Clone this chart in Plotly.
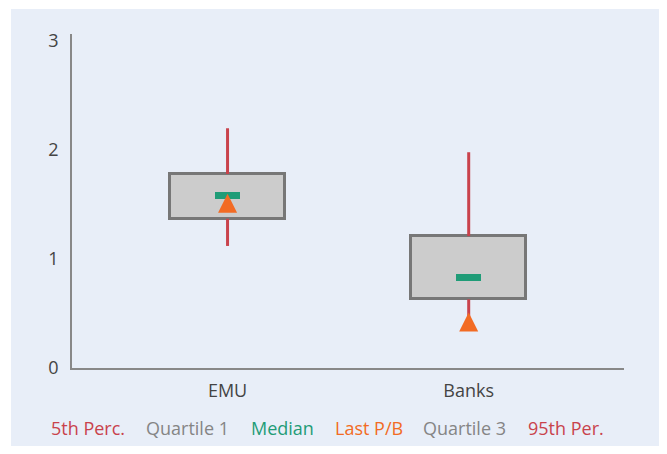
import plotly.graph_objects as go

categories = ["EMU", "Banks"]
p5 = [1.12, 0.46]
q1 = [1.37, 0.63]
median = [1.58, 0.83]
last_pb = [1.60, 0.51]
q3 = [1.78, 1.21]
p95 = [2.20, 1.98]
y_ticks = [0, 1, 2, 3]

legend_names = ["5th Perc.", "Quartile 1", "Median", "Last P/B", "Quartile 3", "95th Per."]
legend_colors = ["#c9424c", "#858585", "#1f9c77", "#f26b24", "#858585", "#c9424c"]
legend_x_px = [41, 136, 241, 325, 413, 518]

RED = "#c9424c"
GREEN = "#1f9c77"
ORANGE = "#f26b24"
PANEL = "#e8eef8"
FONT = "Open Sans"

xs = list(range(len(categories)))
fig = go.Figure()

# whiskers 5th..Q1 and Q3..95th
for i in xs:
    fig.add_trace(go.Scatter(x=[i, i, None, i, i],
                             y=[p5[i], q1[i], None, q3[i], p95[i]], mode="lines",
                             line=dict(color=RED, width=3), showlegend=False,
                             hoverinfo="skip"))
# boxes q1..q3
fig.add_trace(go.Bar(x=xs, y=[q3[i] - q1[i] for i in xs], base=q1, width=0.475,
                     marker=dict(color="#cccccc", line=dict(color="#777777", width=3)),
                     showlegend=False))
# median bars
mh = 0.064
fig.add_trace(go.Bar(x=xs, y=[mh] * len(xs), base=[m - mh / 2 for m in median], width=0.105,
                     marker=dict(color=GREEN, line=dict(width=0)), showlegend=False))
# last P/B triangles (apex at value)
fig.add_trace(go.Scatter(x=xs, y=last_pb, mode="markers",
                         marker=dict(symbol="arrow-up", size=19, color=ORANGE,
                                     line=dict(width=0)),
                         showlegend=False))

W, H = 651, 438
L, R, T, B = 64, 35, 26, 78
pw = W - L - R
ph = H - T - B

def px_to_paper_x(px):
    return (px - L) / pw

def py_to_paper_y(py):
    return (H - B - py) / ph

# background panel
fig.add_shape(type="rect", xref="paper", yref="paper",
              x0=px_to_paper_x(3), x1=px_to_paper_x(W + 5),
              y0=py_to_paper_y(H + 5), y1=py_to_paper_y(1),
              fillcolor=PANEL, line=dict(width=0), layer="below")

for name, col, xp in zip(legend_names, legend_colors, legend_x_px):
    fig.add_annotation(text=name, xref="paper", yref="paper",
                       x=px_to_paper_x(xp), y=py_to_paper_y(420),
                       xanchor="left", yanchor="middle", showarrow=False,
                       font=dict(family=FONT, size=18, color=col))

fig.update_layout(
    width=W, height=H,
    margin=dict(l=L, r=R, t=T, b=B),
    paper_bgcolor="white", plot_bgcolor=PANEL,
    barmode="overlay", bargap=0,
    font=dict(family=FONT, size=18, color="#444444"),
    showlegend=False,
    xaxis=dict(range=[-0.645, 1.644], tickvals=xs, ticktext=categories,
               showgrid=False, zeroline=False, showline=True, linecolor="#888888",
               linewidth=1.5, ticks="", ticklabelstandoff=6,
               tickfont=dict(family=FONT, size=18, color="#444444")),
    yaxis=dict(range=[0, 3.065], tickvals=y_ticks, showgrid=False, zeroline=False,
               showline=True, linecolor="#888888", linewidth=1.5, ticks="",
               ticklabelstandoff=8,
               tickfont=dict(family=FONT, size=18, color="#444444")),
)

fig.write_html("out.html")
